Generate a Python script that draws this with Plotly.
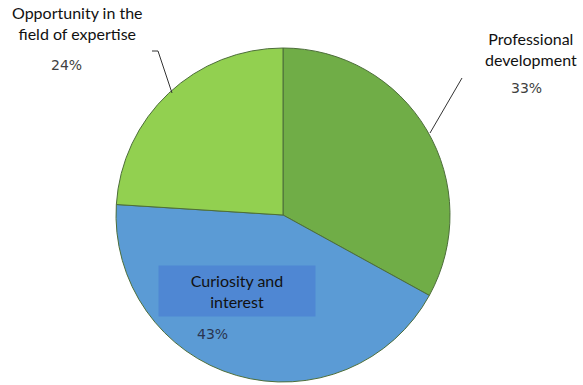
import plotly.graph_objects as go

# Motivation shares (%), clockwise from 12 o'clock
categories = ["Professional<br>development", "Curiosity and<br>interest", "Opportunity in the<br>field of expertise"]
shares = [33, 43, 24]
colors = ["#70AD47", "#5B9BD5", "#92D050"]

W, H = 583, 385

fig = go.Figure(go.Pie(
    labels=categories,
    values=shares,
    sort=False,
    direction="clockwise",
    rotation=0,
    marker=dict(colors=colors, line=dict(color="#4d6e3a", width=1)),
    textinfo="none",
    hoverinfo="label+percent",
    domain=dict(x=[116 / W, 450 / W], y=[1 - 382 / H, 1 - 48 / H]),
    showlegend=False,
))

cat_font = dict(family="Lato, Open Sans, sans-serif", size=16, color="#111111")
pct_font = dict(family="DejaVu Sans, sans-serif", size=14, color="#404040")


def px(x, y):
    return dict(x=x / W, y=1 - y / H, xref="paper", yref="paper",
                xanchor="center", yanchor="middle", showarrow=False)


annotations = [
    dict(**px(77, 23), text=categories[2], font=cat_font, align="center"),
    dict(**px(66, 65), text=f"{shares[2]}%", font=pct_font),
    dict(**px(531, 49), text=categories[0], font=cat_font, align="center"),
    dict(**px(526, 88), text=f"{shares[0]}%", font=pct_font),
    dict(**px(237, 291), text=categories[1], font=cat_font, align="center",
         bgcolor="#4F87D3", width=154, height=48),
    dict(**px(212, 334), text=f"{shares[1]}%", font=dict(pct_font, color="#2a3550")),
]

line_style = dict(color="#333333", width=1)
shapes = [
    dict(type="path", xref="paper", yref="paper",
         path=f"M {152 / W} {1 - 51 / H} L {158 / W} {1 - 51 / H} L {172 / W} {1 - 93 / H}",
         line=line_style),
    dict(type="line", xref="paper", yref="paper",
         x0=462 / W, y0=1 - 78 / H, x1=430 / W, y1=1 - 133 / H, line=line_style),
]

fig.update_layout(
    width=W, height=H,
    margin=dict(l=0, r=0, t=0, b=0),
    paper_bgcolor="white", plot_bgcolor="white",
    annotations=annotations,
    shapes=shapes,
)

fig.write_html("out.html")
